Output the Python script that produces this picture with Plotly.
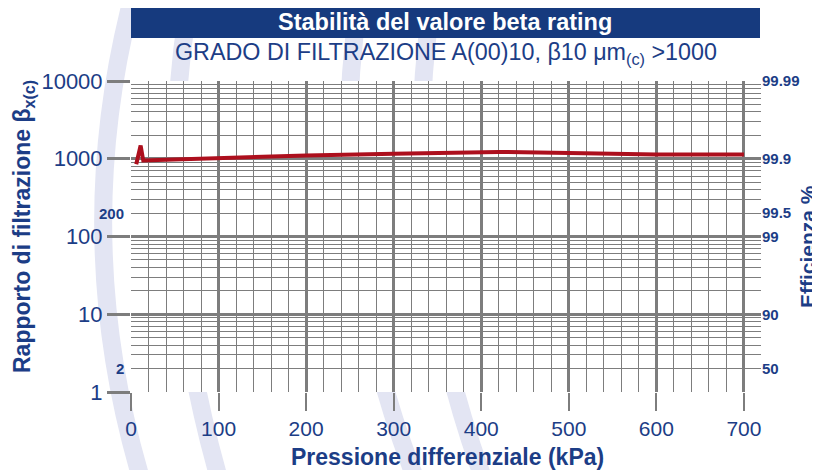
import math
import plotly.graph_objects as go

# ---- data ----
pressure_kpa = [6, 11, 14, 100, 200, 300, 420, 500, 600, 700]
beta_ratio = [850, 1480, 950, 1030, 1100, 1160, 1225, 1190, 1130, 1135]

left_tick_vals = [1, 10, 100, 1000, 10000]
left_tick_text = ["1", "10", "100", "1000", "10000"]
left_extra_vals = [200, 2]
left_extra_text = ["200", "2"]
right_tick_vals = [10000, 1000, 200, 100, 10, 2]
right_tick_text = ["99.99", "99.9", "99.5", "99", "90", "50"]
x_tick_vals = [0, 100, 200, 300, 400, 500, 600, 700]

BLUE = "#1c3d86"
BAR = "#163a7e"
GRID = "#7d7d7d"
RED = "#ad0f1d"
LAV = "#e3e5f3"
FONT = "Liberation Sans"

# page body has an 8px margin: the figure starts at (8, 8) in the window
OFF = 8
W, H = 820 - OFF, 470 - OFF
PL, PT, PWID, PHGT = 131, 81, 630, 311          # plot area in window pixels
L, T = PL - OFF, PT - OFF
R, B = W - L - PWID, H - T - PHGT


def px(x):
    return (x - PL) / PWID


def py(y):
    return (PT + PHGT - y) / PHGT


fig = go.Figure()
fig.add_trace(go.Scatter(x=pressure_kpa, y=beta_ratio, mode="lines",
                         line=dict(color=RED, width=4), showlegend=False,
                         hoverinfo="skip"))
fig.add_trace(go.Scatter(x=pressure_kpa, y=beta_ratio, yaxis="y2", mode="lines",
                         line=dict(color="rgba(0,0,0,0)", width=0), showlegend=False,
                         hoverinfo="skip"))

shapes = []
# decorative lavender arcs (background)
arcs = [
    [(133, -5), (70, 235), (140, 475)],
    [(190, -5), (150, 235), (218, 475)],
    [(360, -5), (322, 235), (414, 475)],
    [(433, -5), (395, 235), (482, 475)],
]
for (x0, y0), (xc, yc), (x1, y1) in arcs:
    path = (f"M {px(x0)} {py(y0)} Q {px(xc)} {py(yc)} {px(x1)} {py(y1)}")
    shapes.append(dict(type="path", xref="paper", yref="paper", path=path,
                       line=dict(color=LAV, width=18), layer="below"))
# white plot area mask over the arcs
shapes.append(dict(type="rect", xref="paper", yref="paper", x0=0, x1=1, y0=0, y1=1,
                   fillcolor="white", line=dict(width=0), layer="below"))
# title bar
shapes.append(dict(type="rect", xref="paper", yref="paper",
                   x0=px(131), x1=px(760), y0=py(38), y1=py(7),
                   fillcolor=BAR, line=dict(width=0), layer="above"))

annotations = [
    dict(text="<b>Stabilità del valore beta rating</b>", x=px(445), y=py(22),
         xref="paper", yref="paper", showarrow=False,
         font=dict(family=FONT, size=23.5, color="white"), xanchor="center", yanchor="middle"),
    dict(text="GRADO DI FILTRAZIONE A(00)10, β10 μm<sub>(c)</sub> &gt;1000", x=px(446), y=py(53),
         xref="paper", yref="paper", showarrow=False,
         font=dict(family=FONT, size=23.3, color=BLUE), xanchor="center", yanchor="middle"),
    dict(text="<b>Rapporto di filtrazione β<sub>x(c)</sub></b>", x=px(23), y=py(227),
         xref="paper", yref="paper", showarrow=False, textangle=-90,
         font=dict(family=FONT, size=23, color=BLUE), xanchor="center", yanchor="middle"),
    dict(text="<b>Efficienza %</b>", x=px(807), y=py(247),
         xref="paper", yref="paper", showarrow=False, textangle=-90,
         font=dict(family=FONT, size=21, color=BLUE), xanchor="center", yanchor="middle"),
    dict(text="<b>Pressione differenziale (kPa)</b>", x=px(447), y=py(457),
         xref="paper", yref="paper", showarrow=False,
         font=dict(family=FONT, size=23, color=BLUE), xanchor="center", yanchor="middle"),
]
for v, t in zip(left_extra_vals, left_extra_text):
    annotations.append(dict(text=f"<b>{t}</b>", x=px(126), y=math.log10(v), xref="paper", yref="y",
                            showarrow=False, xanchor="right", yanchor="middle",
                            font=dict(family=FONT, size=15, color=BLUE)))

fig.update_layout(
    width=W, height=H,
    margin=dict(l=L, r=R, t=T, b=B, pad=0),
    paper_bgcolor="white", plot_bgcolor="white",
    font=dict(family=FONT, color=BLUE),
    shapes=shapes, annotations=annotations,
    xaxis=dict(range=[0, 719.5], tickvals=x_tick_vals, ticks="outside", ticklen=18,
               tickwidth=2, tickcolor=GRID, showgrid=True, gridcolor=GRID, gridwidth=2.5,
               tickfont=dict(family=FONT, size=21, color=BLUE),
               minor=dict(dtick=20, showgrid=True, gridcolor=GRID, gridwidth=1.3, ticks=""),
               showline=False, zeroline=False, fixedrange=True, automargin=False),
    yaxis=dict(type="log", range=[0, 4], tickvals=left_tick_vals, ticktext=left_tick_text,
               ticks="outside", ticklen=23, tickwidth=2.5, tickcolor=GRID,
               showgrid=True, gridcolor=GRID, gridwidth=2.5,
               tickfont=dict(family=FONT, size=22, color=BLUE),
               minor=dict(dtick="D1", showgrid=True, gridcolor=GRID, gridwidth=1.3, ticks=""),
               showline=False, zeroline=False, fixedrange=True, automargin=False),
    yaxis2=dict(type="log", range=[0, 4], overlaying="y", side="right",
                tickvals=right_tick_vals, ticktext=right_tick_text, ticks="",
                showgrid=False, zeroline=False, showline=False,
                tickfont=dict(family=FONT, size=15, color=BLUE, weight="bold"),
                fixedrange=True, automargin=False),
)

fig.write_html("out.html")
